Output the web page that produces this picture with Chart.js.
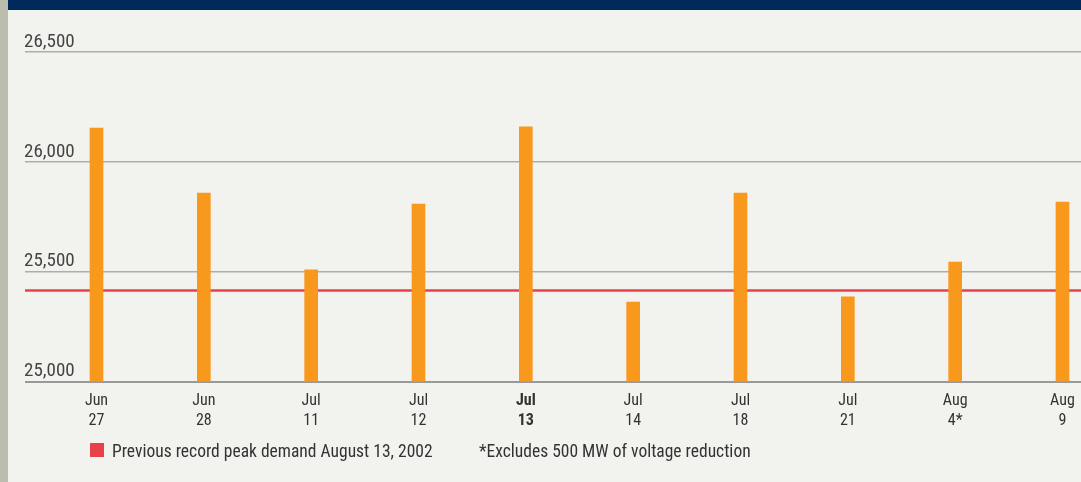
<!DOCTYPE html>
<html lang="en">
<head>
    <meta charset="UTF-8">
    <title>Peak Demand</title>
    <script src="https://cdn.jsdelivr.net/npm/chart.js@4/dist/chart.umd.min.js"></script>
    <style>
        body { margin: 0; background: #f2f2ee; width: 1081px; height: 482px; overflow: hidden; position: relative;
               font-family: 'Roboto Condensed', sans-serif; color: #333; }
        .topbar { position: absolute; left: 8px; top: 0; width: 1073px; height: 10px; background: #002a5c; }
        .sidebar { position: absolute; left: 0; top: 0; width: 8px; height: 482px; background: #bdbdae; }
        #chart { position: absolute; left: 0; top: 0; }
        .legend { position: absolute; top: 440px; font-size: 17.5px; line-height: 22px; white-space: nowrap; }
        .swatch { position: absolute; left: 90px; top: 443px; width: 14px; height: 14px; background: #e8414a; }
    </style>
</head>
<body>
    <div class="sidebar"></div>
    <div class="topbar"></div>
    <canvas id="chart" width="1081" height="482"></canvas>
    <div class="swatch"></div>
    <div class="legend" style="left:112px">Previous record peak demand August 13, 2002</div>
    <div class="legend" style="left:479px">*Excludes 500 MW of voltage reduction</div>

    <script>
        // data
        const categories = [['Jun', '27'], ['Jun', '28'], ['Jul', '11'], ['Jul', '12'], ['Jul', '13'],
                            ['Jul', '14'], ['Jul', '18'], ['Jul', '21'], ['Aug', '4*'], ['Aug', '9']];
        const peakDemand = [26154, 25858, 25508, 25808, 26159, 25362, 25858, 25385, 25544, 25817];
        const yTicks = [25000, 25500, 26000, 26500];
        const previousRecord = 25414;
        const highlightIndex = 4; // Jul 13 drawn in bold

        const fontFamily = "'Roboto Condensed', sans-serif";

        // red reference line for the old record, drawn behind the bars
        const recordLine = {
            id: 'recordLine',
            beforeDatasetsDraw(chart) {
                const { ctx, chartArea, scales } = chart;
                const y = scales.y.getPixelForValue(previousRecord);
                ctx.save();
                ctx.strokeStyle = '#e8414a';
                ctx.lineWidth = 2.5;
                ctx.beginPath();
                ctx.moveTo(chartArea.left, y);
                ctx.lineTo(chartArea.right, y);
                ctx.stroke();
                ctx.restore();
            }
        };

        // plot spans x=25..1081, first bar at 96.5, last at 1062.5
        const step = (1062.5 - 96.5) / (categories.length - 1);
        const xMin = -(96.5 - 25) / step;
        const xMax = (categories.length - 1) + (1081 - 1062.5) / step;

        new Chart(document.getElementById('chart'), {
            type: 'bar',
            data: {
                datasets: [{
                    data: peakDemand.map((v, i) => ({ x: i, y: v })),
                    backgroundColor: '#f8981d',
                    barThickness: 13,
                    borderWidth: 0
                }]
            },
            options: {
                responsive: false,
                animation: false,
                layout: { padding: { left: 25, right: 0, top: 52, bottom: 0 } },
                plugins: { legend: { display: false }, tooltip: { enabled: false } },
                scales: {
                    x: {
                        type: 'linear',
                        bounds: 'data',
                        offset: false,
                        min: xMin,
                        max: xMax,
                        grid: { display: false, offset: false },
                        border: { display: false },
                        afterFit(scale) { scale.height = 100.5; },
                        afterBuildTicks(scale) { scale.ticks = categories.map((c, i) => ({ value: i })); },
                        ticks: {
                            autoSkip: false,
                            maxRotation: 0,
                            padding: 1,
                            color: '#333',
                            font: (ctx) => ({
                                family: fontFamily,
                                size: 16,
                                lineHeight: 1.25,
                                weight: ctx.tick && ctx.tick.value === highlightIndex ? 'bold' : 'normal'
                            }),
                            callback: (v) => categories[v]
                        }
                    },
                    y: {
                        min: yTicks[0],
                        max: yTicks[yTicks.length - 1],
                        afterFit(scale) { scale.width = 0; },
                        afterBuildTicks(scale) { scale.ticks = yTicks.map(v => ({ value: v })); },
                        border: { display: false },
                        grid: {
                            color: (ctx) => ctx.tick && ctx.tick.value === yTicks[0] ? '#999999' : '#adadad',
                            lineWidth: (ctx) => ctx.tick && ctx.tick.value === yTicks[0] ? 2 : 1.5,
                            tickLength: 0,
                            drawTicks: false
                        },
                        ticks: {
                            mirror: true,
                            padding: -1,
                            labelOffset: -10,
                            color: '#444',
                            font: { family: fontFamily, size: 19 },
                            callback: (v) => v.toLocaleString('en-US')
                        }
                    }
                }
            },
            plugins: [recordLine]
        });
    </script>
</body>
</html>
